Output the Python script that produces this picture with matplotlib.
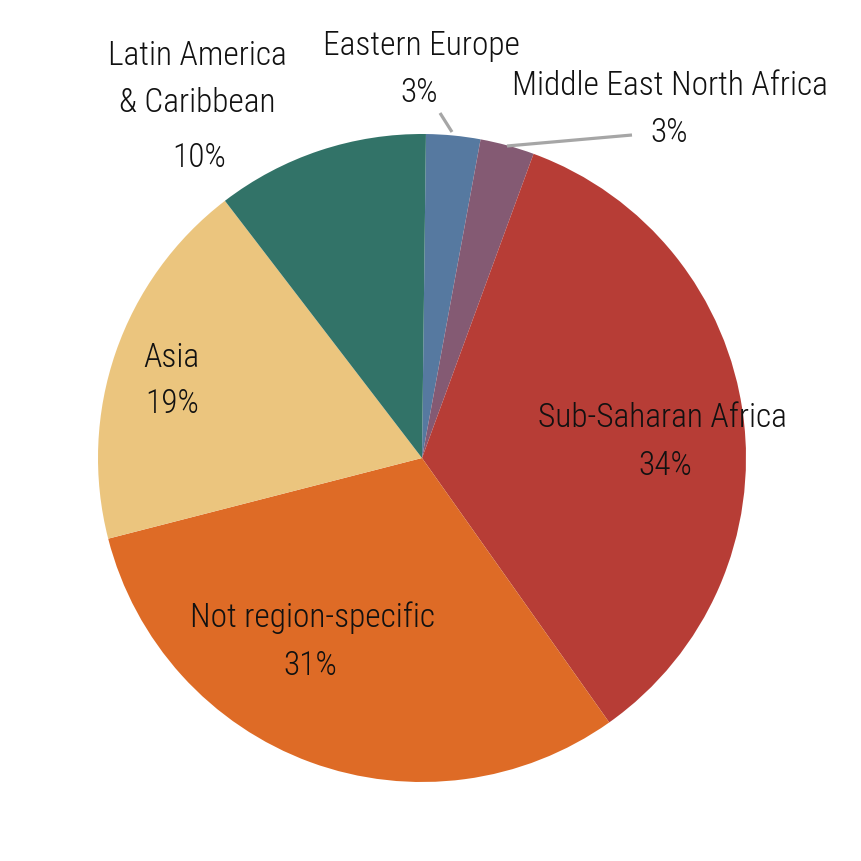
import matplotlib
matplotlib.use("Agg")
import matplotlib.pyplot as plt

# regions, clockwise from 12 o'clock
regions = ["Eastern Europe", "Middle East North Africa", "Sub-Saharan Africa",
           "Not region-specific", "Asia", "Latin America\n& Caribbean"]
shares = [2.7, 2.7, 34.6, 30.8, 18.6, 10.6]
pct_labels = ["3%", "3%", "34%", "31%", "19%", "10%"]
colors = ["#5679A0", "#845A73", "#B73D36", "#DE6B26", "#EBC57E", "#327368"]

plt.rcParams['font.family'] = ['Liberation Sans Narrow', 'Roboto Condensed', 'DejaVu Sans']
plt.rcParams['font.stretch'] = 'condensed'

W = 861
fig = plt.figure(figsize=(8.61, 8.61), dpi=100)
ax = fig.add_axes([0, 0, 1, 1])

cx, cy, r = 422, W - 458, 324
ax.pie(shares, colors=colors, startangle=89.3, counterclock=False,
       center=(cx, cy), radius=r, frame=True,
       wedgeprops=dict(linewidth=0))
ax.set_xlim(0, W)
ax.set_ylim(0, W)
ax.set_aspect('equal')
ax.axis('off')

# label anchors in pixels (centre x, baseline y from top) : name, percent
name_pos = [(421, 55), (670, 95), (662, 427), (312, 627), (171, 367), (197, 65)]
pct_pos = [(419, 102), (669, 142), (665, 475), (310, 675), (172, 413), (199, 167)]

txt = dict(ha='center', va='baseline', fontsize=24, fontweight='light', color='#111111')
for i in range(len(regions)):
    nx, ny = name_pos[i]
    if "\n" in regions[i]:
        first, second = regions[i].split("\n")
        ax.text(nx, W - ny, first, **txt)
        ax.text(nx, W - ny - 47, second, **txt)
    else:
        ax.text(nx, W - ny, regions[i], **txt)
    px, py = pct_pos[i]
    ax.text(px, W - py, pct_labels[i], **txt)

# leader lines for the two small slices
ax.plot([440, 452], [W - 113, W - 132], color='#A6A6A6', lw=2.3, solid_capstyle='butt')
ax.plot([507, 632], [W - 146, W - 135], color='#A6A6A6', lw=2.3, solid_capstyle='butt')

fig.savefig("out.png", dpi=100, facecolor='white')
